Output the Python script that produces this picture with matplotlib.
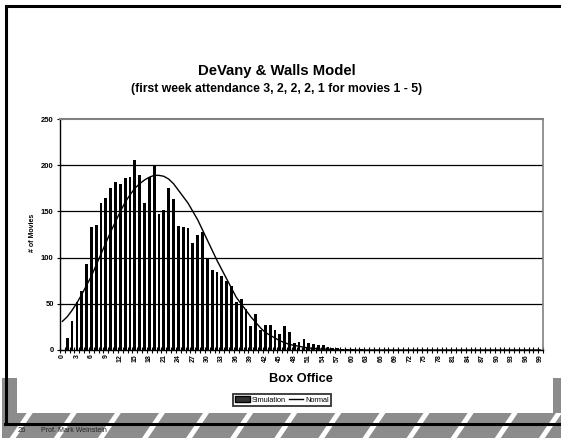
import numpy as np
import matplotlib.pyplot as plt
from matplotlib.patches import Rectangle, Polygon
from matplotlib.lines import Line2D

plt.rcParams['font.family'] = ['Liberation Sans', 'DejaVu Sans']

# box office bins 0..99
box_office = list(range(100))

# simulated counts per bin
simulation = [0, 13, 31, 52, 64, 93, 133, 135, 159, 165,
              175, 182, 180, 186, 187, 206, 189, 159, 187, 200,
              147, 152, 175, 163, 134, 133, 132, 116, 124, 128,
              99, 87, 84, 80, 75, 69, 52, 55, 44, 26,
              39, 22, 27, 27, 22, 17, 26, 20, 8, 9,
              12, 8, 6, 5, 5, 3, 2, 2, 1, 1,
              1, 0, 1] + [0] * 37

# fitted normal curve
normal = [31, 36, 43, 51, 60, 70, 80, 92, 104, 116,
          128, 139, 150, 160, 168, 175, 180, 184, 187, 189,
          189, 188, 185, 180, 173, 166, 159, 150, 141, 130,
          119, 108, 97, 87, 77, 67, 57, 50, 43, 36,
          30, 24, 19, 16, 13, 10, 8, 6, 5, 4,
          3, 2, 2, 1, 1, 1] + [0] * 44

x_labels = [str(v) for v in range(0, 100, 3)]

W, H = 561, 438
fig = plt.figure(figsize=(W / 100, H / 100), dpi=100)

# slide background: grey border pieces, stripes and black frame (pixel coords)
bg = fig.add_axes([0, 0, 1, 1])
bg.set_xlim(0, W)
bg.set_ylim(H, 0)
bg.axis('off')
grey = '#8c8c8c'
bg.add_patch(Rectangle((2, 378), 15, 60, color=grey, lw=0))
bg.add_patch(Rectangle((553, 378), 8, 60, color=grey, lw=0))
bg.add_patch(Rectangle((2, 413), W, 25, color=grey, lw=0))
for k in range(14):
    x0 = 26.7 + 44.1 * k
    bg.add_patch(Polygon([(x0, 413), (x0 + 6, 413), (x0 + 6 - 17, 438), (x0 - 17, 438)],
                         closed=True, color='white', lw=0))
bg.plot([6.5, 6.5, W], [424, 6, 6], color='black', lw=2.2, solid_joinstyle='miter')
bg.plot([5.5, W], [424, 424], color='black', lw=2.2)
bg.text(18, 431, '26', fontsize=5.5, color='#222222', va='center')
bg.text(41, 431, 'Prof. Mark Weinstein', fontsize=5, color='#222222', va='center')

# titles and axis labels
fig.text(277 / W, 1 - 71 / H, 'DeVany & Walls Model', ha='center', va='center',
         fontsize=10.7, fontweight='bold')
fig.text(277 / W, 1 - 89 / H, '(first week attendance 3, 2, 2, 2, 1 for movies 1 - 5)',
         ha='center', va='center', fontsize=8.8, fontweight='bold')

ax = fig.add_axes([60 / W, 1 - 350 / H, 483 / W, 231 / H])
ax.bar(box_office, simulation, width=0.58, color='black', zorder=3)
ax.plot(box_office, normal, color='black', lw=1, zorder=4)

ax.set_xlim(-0.5, 99.5)
ax.set_ylim(0, 250)
ax.set_yticks(range(0, 251, 50))
ax.set_xticks(range(0, 100, 3))
ax.set_xticklabels(x_labels, rotation=90, fontsize=5, fontweight='bold')
ax.set_xticks(np.arange(-0.5, 100, 1), minor=True)
ax.tick_params(axis='x', which='major', length=0, pad=3)
ax.tick_params(axis='x', which='minor', direction='inout', length=4, width=0.8)
ax.tick_params(axis='y', direction='inout', length=5, width=0.8, pad=2, labelsize=5.5)
for lab in ax.get_yticklabels():
    lab.set_fontweight('bold')

for y in range(50, 250, 50):
    ax.axhline(y, color='black', lw=0.9, zorder=1)

ax.spines['top'].set_color('#808080')
ax.spines['right'].set_color('#808080')
ax.spines['top'].set_linewidth(1.5)
ax.spines['right'].set_linewidth(1.2)
ax.spines['left'].set_linewidth(1)
ax.spines['bottom'].set_linewidth(1)

fig.text(33 / W, 1 - 233 / H, '# of Movies', rotation=90, ha='center', va='center',
         fontsize=5, fontweight='bold')
fig.text(301 / W, 1 - 379 / H, 'Box Office', ha='center', va='center',
         fontsize=9.2, fontweight='bold')

handles = [Rectangle((0, 0), 1, 1, facecolor='#333333', edgecolor='black', lw=1),
           Line2D([0], [0], color='black', lw=1)]
leg = ax.legend(handles, ['Simulation', 'Normal'], loc='center',
                bbox_to_anchor=(282 / W, 1 - 400 / H), bbox_transform=fig.transFigure,
                ncol=2, fontsize=5.3, frameon=True, fancybox=False, edgecolor='black',
                borderpad=0.35, columnspacing=0.4, handletextpad=0.2, handlelength=2.0,
                borderaxespad=0)
leg.get_frame().set_linewidth(1.3)

fig.savefig('out.png', dpi=100)
